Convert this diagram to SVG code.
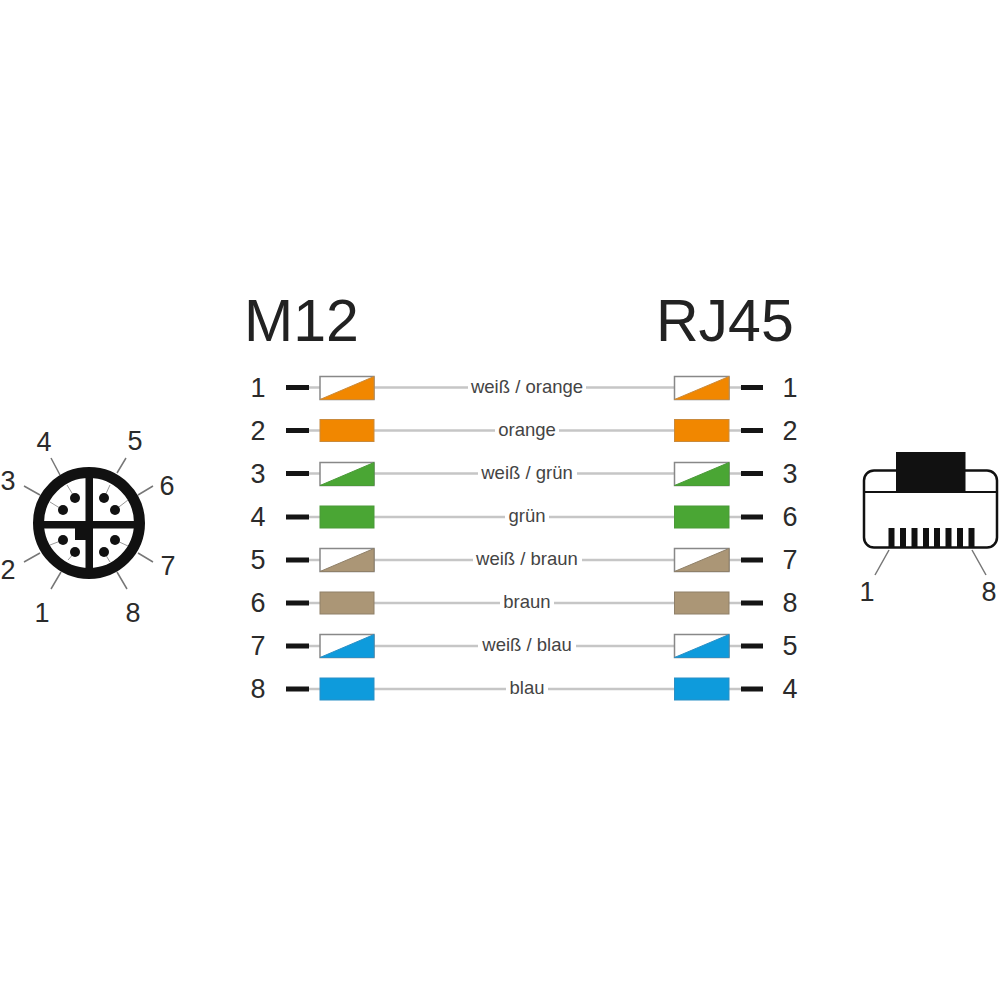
<svg xmlns="http://www.w3.org/2000/svg" width="1000" height="1000" viewBox="0 0 1000 1000">
<style>
text{font-family:"Liberation Sans",Arial,sans-serif;fill:#2b2b2b}
.t{font-size:59px;fill:#222}
.n{font-size:27px;text-anchor:middle}
.l{font-size:18.500px;text-anchor:middle;fill:#444}
.w{stroke:#c6c6c6;stroke-width:2.500;fill:none}
.d{stroke:#151515;stroke-width:5;fill:none}
.thin{stroke:#777;stroke-width:1.500;fill:none}
.pin{stroke:#999;stroke-width:1;fill:none}
.box{fill:#fff;stroke:#888;stroke-width:1.500}
.or{fill:#f18700;stroke:#c98a3c;stroke-width:1}
.gr{fill:#4aa634;stroke:#4a9a38;stroke-width:1}
.br{fill:#ab9676;stroke:#8f8069;stroke-width:1}
.bl{fill:#0e9bdc;stroke:#2a8fc5;stroke-width:1}
.k{fill:#111}
</style>
<rect width="1000" height="1000" fill="#fff"/>
<text class="t" x="244" y="341">M12</text>
<text class="t" x="656" y="341">RJ45</text>

<g id="connectors">
<path class="w" d="M309 387.500H320M374 387.500H468M586 387.500H674M729 387.500H741"/>
<path class="w" d="M309 430.500H320M374 430.500H495M559 430.500H674M729 430.500H741"/>
<path class="w" d="M309 473.500H320M374 473.500H478M577 473.500H674M729 473.500H741"/>
<path class="w" d="M309 517H320M374 517H505M549 517H674M729 517H741"/>
<path class="w" d="M309 560H320M374 560H473M582 560H674M729 560H741"/>
<path class="w" d="M309 603H320M374 603H500M554 603H674M729 603H741"/>
<path class="w" d="M309 646H320M374 646H478M576 646H674M729 646H741"/>
<path class="w" d="M309 689H320M374 689H506M548 689H674M729 689H741"/>
<path class="d" d="M286 387.500H309M741 387.500H763M286 430.500H309M741 430.500H763M286 473.500H309M741 473.500H763M286 517H309M741 517H763M286 560H309M741 560H763M286 603H309M741 603H763M286 646H309M741 646H763M286 689H309M741 689H763"/>
</g>

<g id="row-1">
<text class="n" x="258" y="397">1</text>
<rect class="box" x="320" y="376.500" width="54" height="23"/><path class="or" d="M320 399.500L374 376.500V399.500Z"/>
<text class="l" x="527" y="392.500">weiß / orange</text>
<rect class="box" x="674.500" y="376.500" width="54.500" height="23"/><path class="or" d="M674.500 399.500L729 376.500V399.500Z"/>
<text class="n" x="790" y="397">1</text>
</g>
<g id="row-2">
<text class="n" x="258" y="440">2</text>
<rect class="or" x="320" y="419.500" width="54" height="22"/>
<text class="l" x="527" y="435.500">orange</text>
<rect class="or" x="674.500" y="419.500" width="54.500" height="22"/>
<text class="n" x="790" y="440">2</text>
</g>
<g id="row-3">
<text class="n" x="258" y="483">3</text>
<rect class="box" x="320" y="462.500" width="54" height="23"/><path class="gr" d="M320 485.500L374 462.500V485.500Z"/>
<text class="l" x="527" y="478.500">weiß / grün</text>
<rect class="box" x="674.500" y="462.500" width="54.500" height="23"/><path class="gr" d="M674.500 485.500L729 462.500V485.500Z"/>
<text class="n" x="790" y="483">3</text>
</g>
<g id="row-4">
<text class="n" x="258" y="526">4</text>
<rect class="gr" x="320" y="506" width="54" height="22"/>
<text class="l" x="527" y="522">grün</text>
<rect class="gr" x="674.500" y="506" width="54.500" height="22"/>
<text class="n" x="790" y="526">6</text>
</g>
<g id="row-5">
<text class="n" x="258" y="569">5</text>
<rect class="box" x="320" y="548.500" width="54" height="23"/><path class="br" d="M320 571.500L374 548.500V571.500Z"/>
<text class="l" x="527" y="565">weiß / braun</text>
<rect class="box" x="674.500" y="548.500" width="54.500" height="23"/><path class="br" d="M674.500 571.500L729 548.500V571.500Z"/>
<text class="n" x="790" y="569">7</text>
</g>
<g id="row-6">
<text class="n" x="258" y="612">6</text>
<rect class="br" x="320" y="592" width="54" height="22"/>
<text class="l" x="527" y="608">braun</text>
<rect class="br" x="674.500" y="592" width="54.500" height="22"/>
<text class="n" x="790" y="612">8</text>
</g>
<g id="row-7">
<text class="n" x="258" y="655">7</text>
<rect class="box" x="320" y="634.500" width="54" height="23"/><path class="bl" d="M320 657.500L374 634.500V657.500Z"/>
<text class="l" x="527" y="651">weiß / blau</text>
<rect class="box" x="674.500" y="634.500" width="54.500" height="23"/><path class="bl" d="M674.500 657.500L729 634.500V657.500Z"/>
<text class="n" x="790" y="655">5</text>
</g>
<g id="row-8">
<text class="n" x="258" y="698">8</text>
<rect class="bl" x="320" y="678" width="54" height="22"/>
<text class="l" x="527" y="694">blau</text>
<rect class="bl" x="674.500" y="678" width="54.500" height="22"/>
<text class="n" x="790" y="698">4</text>
</g>

<g id="m12">
<path class="thin" d="M51 458L60 475M126 458L117 473M24 486L40 495M153 486L138 495M24 562L40 553M153 562L138 553M51 589L61 572M127 589L117 572"/>
<circle cx="89" cy="523" r="50.500" fill="#fff" stroke="#111" stroke-width="11"/>
<path class="pin" d="M75 498L67 485M63 510L50 502M104 498L110 485M115 510L128 500M63 540L50 545M75 552L68 560M115 540L128 546M104 552L110 562"/>
<rect class="k" x="85.500" y="475" width="7.500" height="96"/>
<rect class="k" x="41" y="521" width="96" height="7.500"/>
<rect class="k" x="75" y="523" width="15" height="17"/>
<circle class="k" cx="75" cy="498" r="5"/><circle class="k" cx="63" cy="510" r="5"/>
<circle class="k" cx="104" cy="498" r="5"/><circle class="k" cx="115" cy="510" r="5"/>
<circle class="k" cx="63" cy="540" r="5"/><circle class="k" cx="75" cy="552" r="5"/>
<circle class="k" cx="115" cy="540" r="5"/><circle class="k" cx="104" cy="552" r="5"/>
<text class="n" x="44" y="451">4</text>
<text class="n" x="135" y="450">5</text>
<text class="n" x="8" y="490">3</text>
<text class="n" x="167" y="495">6</text>
<text class="n" x="8" y="579">2</text>
<text class="n" x="168" y="575">7</text>
<text class="n" x="42" y="622">1</text>
<text class="n" x="133" y="622">8</text>
</g>

<g id="rj45">
<rect x="864" y="470.500" width="133" height="77" rx="10" fill="#fff" stroke="#111" stroke-width="2.500"/>
<path d="M864 492H997" stroke="#111" stroke-width="2"/>
<rect class="k" x="896" y="452" width="69.500" height="40"/>
<g class="k">
<rect x="888.500" y="528" width="6" height="20"/><rect x="900" y="528" width="6" height="20"/><rect x="911.500" y="528" width="6" height="20"/><rect x="923" y="528" width="6" height="20"/><rect x="934" y="528" width="6" height="20"/><rect x="945.500" y="528" width="6" height="20"/><rect x="957" y="528" width="6" height="20"/><rect x="968.500" y="528" width="6" height="20"/>
</g>
<path class="thin" d="M889 550L875 575M972 550L986 575"/>
<text class="n" x="867" y="601">1</text>
<text class="n" x="989" y="601">8</text>
</g>
</svg>
